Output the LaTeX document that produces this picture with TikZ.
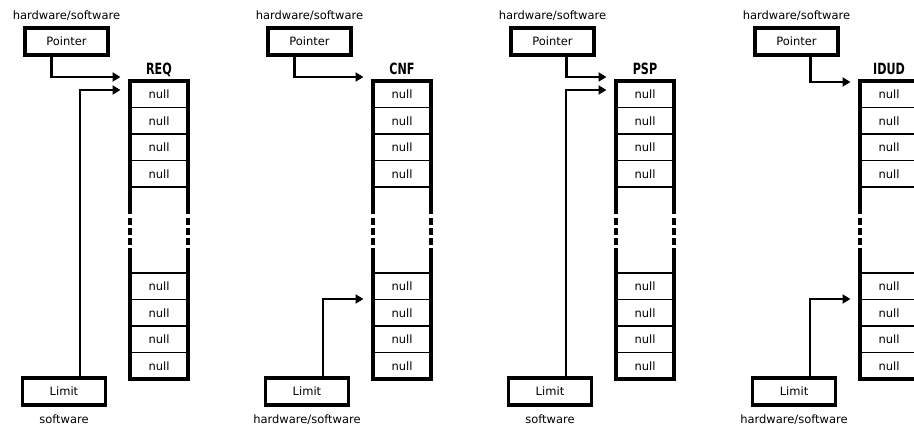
\documentclass[tikz,border=0pt]{standalone}
\usepackage{fontspec}
\setmainfont{DejaVu Sans}
\usetikzlibrary{arrows.meta}
\tikzset{
    normal/.style={draw, line width=3.2pt},
    small/.style={font=\fontsize{11.5}{13}\selectfont},
    box/.style={style=normal, style=small, minimum width=83pt, minimum height=27pt, inner sep=0pt},
    cell/.style={draw, line width=1.7pt, style=small, minimum width=58pt, minimum height=26.5pt, inner sep=0pt},
    side/.style={style=small, inner sep=0pt, anchor=base}, % labels above and below the boxes
    queue/.style={font=\bfseries\fontsize{15.5}{17}\selectfont, inner sep=0pt, anchor=base},
    frame/.style={line width=3.2pt},
    e/.style={line width=2.2pt, -{Triangle[length=8pt, width=9pt]}}
}
\newcommand{\hwsw}{hardware/software}

\begin{document}
\begin{tikzpicture}[x=1pt, y=-1pt]
    \useasboundingbox (0,0) rectangle (914,428);
    \clip (0,0) rectangle (914,428);
    \foreach \ox/\nm/\px/\py/\ly/\lbl in {130/REQ/-15/77/90/software, 373/CNF/-15/77/299/\hwsw, 616/PSP/14/77/90/software, 860/IDUD/14/82/299/\hwsw} {
    \begin{scope}[xshift=\ox]
        \node[box] (ptr\nm) at (-63.5, 41.5) {Pointer};
        \node[side] (hw\nm) at (-63.5, 19.5) {\hwsw};
        \node[box] (lim\nm) at (-66, 391.5) {Limit};
        \node[side] (who\nm) at (-66, 423) {\lbl};
        \node[queue] (title\nm) at (29, 75) {\scalebox{0.72}[1]{\nm}};

        \foreach \i in {1,...,4} {
            \node[cell] (top\nm\i) at (29, {81 + 26.5*\i - 13.25}) {null};
            \node[cell] (bot\nm\i) at (29, {273 + 26.5*\i - 13.25}) {null};
        }
        \draw[frame] (0, 214) |- (58, 81) -- (58, 214);
        \draw[frame] (0, 248) |- (58, 379) -- (58, 248);
        \draw[frame, dash pattern=on 7pt off 3pt] (0, 218) -- (0, 245) (58, 218) -- (58, 245);

        \coordinate (ptrtip\nm) at (-9.5, \py);
        \coordinate (limtip\nm) at (-9.5, \ly);
        \draw[e] ([xshift=\px pt]ptr\nm.south) |- (ptrtip\nm);
        \draw[e] ([xshift=16pt]lim\nm.north) |- (limtip\nm);
    \end{scope}
    }
\end{tikzpicture}
\end{document}
